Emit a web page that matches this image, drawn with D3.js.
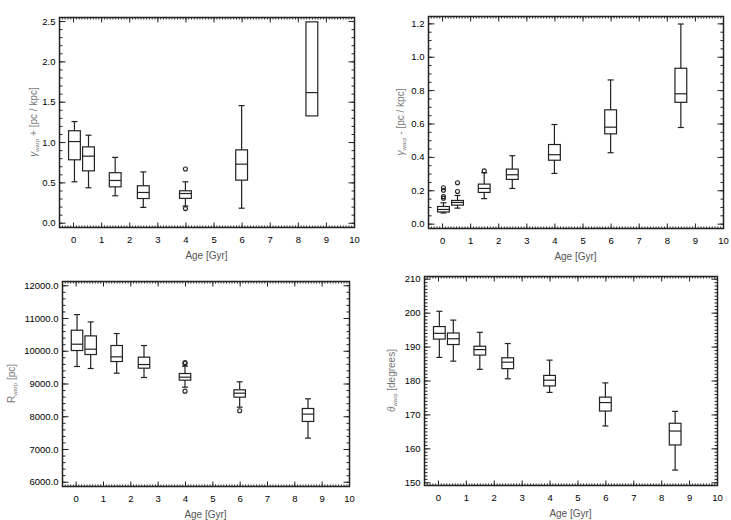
<!DOCTYPE html>
<html>
<head>
<meta charset="utf-8">
<script src="https://cdn.jsdelivr.net/npm/d3@7"></script>
<style>
  body { margin: 0; background: #fff; }
  svg { display: block; font-family: "Liberation Sans", Arial, sans-serif; }
  .tick text { font-size: 9.5px; fill: #000; }
  .axis path { display: none; }
  .axis line { stroke: #222; }
</style>
</head>
<body>
<div id="chart"></div>
<script>
(function () {
    // age bins (Gyr) shared by every panel
    const ages = [0.05, 0.55, 1.5, 2.5, 4, 6, 8.5];

    // box stats per age bin: [whisker low, q1, median, q3, whisker high]
    const gammaPlus = [
        [0.507, 0.78, 1.006, 1.14, 1.254],
        [0.433, 0.643, 0.825, 0.94, 1.085],
        [0.334, 0.445, 0.524, 0.62, 0.81],
        [0.19, 0.30, 0.375, 0.458, 0.63],
        [0.207, 0.302, 0.362, 0.396, 0.507],
        [0.18, 0.528, 0.726, 0.903, 1.452],
        [1.324, 1.324, 1.613, 2.49, 2.49]
    ];
    const gammaPlusOut = [[4, 0.665], [4, 0.175]];

    const gammaMinus = [
        [0.064, 0.07, 0.085, 0.103, 0.125],
        [0.093, 0.111, 0.127, 0.139, 0.169],
        [0.15, 0.187, 0.211, 0.237, 0.305],
        [0.211, 0.265, 0.293, 0.327, 0.407],
        [0.301, 0.38, 0.413, 0.474, 0.594],
        [0.425, 0.538, 0.578, 0.682, 0.861],
        [0.576, 0.727, 0.778, 0.931, 1.196]
    ];
    const gammaMinusOut = [[0.05, 0.215], [0.05, 0.2], [0.05, 0.162], [0.05, 0.152],
                           [0.55, 0.245], [0.55, 0.193], [1.5, 0.316]];

    const rWarp = [
        [9519, 10007, 10200, 10627, 11105],
        [9458, 9885, 10048, 10454, 10881],
        [9315, 9671, 9814, 10160, 10526],
        [9183, 9468, 9580, 9804, 10160],
        [8888, 9102, 9193, 9305, 9529],
        [8278, 8583, 8705, 8807, 9051],
        [7332, 7841, 8065, 8237, 8532]
    ];
    const rWarpOut = [[4, 9640], [4, 9612], [4, 8766], [6, 8166]];

    const thetaWarp = [
        [186.8, 192.2, 193.9, 195.9, 200.4],
        [185.7, 190.6, 192.3, 194.0, 197.8],
        [183.3, 187.5, 189.1, 190.1, 194.2],
        [180.5, 183.5, 185.4, 186.7, 190.9],
        [176.5, 178.4, 180.1, 181.5, 186.0],
        [166.6, 171.0, 173.5, 175.1, 179.3],
        [153.6, 161.0, 165.1, 167.4, 170.9]
    ];
    const thetaWarpOut = [];

    const xTicks = d3.range(0, 11, 1);

    const W = 731, H = 520;
    const svg = d3.select("#chart").append("svg")
        .attr("width", W).attr("height", H);

    const panels = [
        { stats: gammaPlus, out: gammaPlusOut, frame: { l: 59, t: 17, r: 354, b: 227 },
          yDomain: [-0.053, 2.55], yTicks: d3.range(0, 2.51, 0.5), yMinor: 0.1, fmt: d3.format(".1f"),
          title: ["γ", "warp", " + [pc / kpc]"], titleX: 33 },
        { stats: gammaMinus, out: gammaMinusOut, frame: { l: 428, t: 16, r: 723, b: 228 },
          yDomain: [-0.026, 1.244], yTicks: d3.range(0, 1.21, 0.2), yMinor: 0.05, fmt: d3.format(".1f"),
          title: ["γ", "warp", " - [pc / kpc]"], titleX: 400 },
        { stats: rWarp, out: rWarpOut, frame: { l: 62, t: 281, r: 349, b: 486 },
          yDomain: [5870, 12130], yTicks: d3.range(6000, 12001, 1000), yMinor: 200, fmt: d3.format(".1f"),
          title: ["R", "warp", " [pc]"], titleX: 11 },
        { stats: thetaWarp, out: thetaWarpOut, frame: { l: 424, t: 276, r: 717, b: 485 },
          yDomain: [149.2, 210.8], yTicks: d3.range(150, 211, 10), yMinor: 1, fmt: d3.format("d"),
          title: ["θ", "warp", " [degrees]"], titleX: 391 }
    ];

    function minorTicks(domain, step) {
        const out = [];
        const start = Math.ceil(domain[0] / step - 1e-6);
        const end = Math.floor(domain[1] / step + 1e-6);
        for (let i = start; i <= end; i++) out.push(+(i * step).toFixed(6));
        return out;
    }

    function drawPanel(p) {
        const f = p.frame;
        const x = d3.scaleLinear().domain([-0.5, 10]).range([f.l, f.r]);
        const y = d3.scaleLinear().domain(p.yDomain).range([f.b, f.t]);
        const g = svg.append("g");

        // frame
        g.append("rect")
            .attr("x", f.l + 0.5).attr("y", f.t + 0.5)
            .attr("width", f.r - f.l).attr("height", f.b - f.t)
            .attr("fill", "none").attr("stroke", "#222").attr("stroke-width", 1.5);

        const xMinor = minorTicks([-0.5, 10], 0.1);
        const yMinor = minorTicks(p.yDomain, p.yMinor);

        // bottom axis, ticks pointing inward
        g.append("g").attr("class", "axis").attr("transform", `translate(0,${f.b + 0.5})`)
            .call(d3.axisBottom(x).tickValues(xMinor).tickSizeInner(-2).tickFormat(""));
        g.append("g").attr("class", "axis").attr("transform", `translate(0,${f.b + 0.5})`)
            .call(d3.axisBottom(x).tickValues(xTicks).tickSizeInner(-5).tickPadding(9).tickFormat(d3.format("d")));
        // top axis
        g.append("g").attr("class", "axis").attr("transform", `translate(0,${f.t + 0.5})`)
            .call(d3.axisTop(x).tickValues(xMinor).tickSizeInner(-2).tickFormat(""));
        g.append("g").attr("class", "axis").attr("transform", `translate(0,${f.t + 0.5})`)
            .call(d3.axisTop(x).tickValues(xTicks).tickSizeInner(-5).tickFormat(""));
        // left axis
        g.append("g").attr("class", "axis").attr("transform", `translate(${f.l + 0.5},0)`)
            .call(d3.axisLeft(y).tickValues(yMinor).tickSizeInner(-3).tickFormat(""));
        g.append("g").attr("class", "axis").attr("transform", `translate(${f.l + 0.5},0)`)
            .call(d3.axisLeft(y).tickValues(p.yTicks).tickSizeInner(-6).tickPadding(4).tickFormat(p.fmt));
        // right axis
        g.append("g").attr("class", "axis").attr("transform", `translate(${f.r + 0.5},0)`)
            .call(d3.axisRight(y).tickValues(yMinor).tickSizeInner(-3).tickFormat(""));
        g.append("g").attr("class", "axis").attr("transform", `translate(${f.r + 0.5},0)`)
            .call(d3.axisRight(y).tickValues(p.yTicks).tickSizeInner(-6).tickFormat(""));

        // x title
        g.append("text")
            .attr("x", (f.l + f.r) / 2).attr("y", f.b + 28.5)
            .attr("dy", "0.35em")
            .attr("text-anchor", "middle")
            .attr("font-size", 10).attr("fill", "#555")
            .text("Age [Gyr]");

        // y title with subscript
        const yt = g.append("text")
            .attr("transform", `translate(${p.titleX},${(f.t + f.b) / 2}) rotate(-90)`)
            .attr("text-anchor", "middle")
            .attr("dy", "0.35em")
            .attr("font-size", 10).attr("fill", "#777");
        yt.append("tspan").attr("font-style", p.title[0] === "R" ? "normal" : "italic").text(p.title[0]);
        yt.append("tspan").attr("font-size", 6).attr("dy", 2.5).text(p.title[1]);
        yt.append("tspan").attr("dy", -2.5).text(p.title[2]);

        // boxes
        const half = (x(0.42) - x(0)) / 2;
        const cap = 3;
        const boxes = g.append("g").attr("fill", "none").attr("stroke", "#222").attr("stroke-width", 1.2);
        p.stats.forEach((s, i) => {
            const cx = x(ages[i]);
            const [lo, q1, med, q3, hi] = s.map(y);
            const bg = boxes.append("g");
            bg.append("rect").attr("x", cx - half).attr("y", q3)
                .attr("width", half * 2).attr("height", q1 - q3);
            bg.append("line").attr("x1", cx - half).attr("x2", cx + half).attr("y1", med).attr("y2", med);
            if (hi < q3 - 0.5) {
                bg.append("line").attr("x1", cx).attr("x2", cx).attr("y1", q3).attr("y2", hi);
                bg.append("line").attr("x1", cx - cap).attr("x2", cx + cap).attr("y1", hi).attr("y2", hi);
            }
            if (lo > q1 + 0.5) {
                bg.append("line").attr("x1", cx).attr("x2", cx).attr("y1", q1).attr("y2", lo);
                bg.append("line").attr("x1", cx - cap).attr("x2", cx + cap).attr("y1", lo).attr("y2", lo);
            }
        });

        // outliers
        g.append("g").selectAll("circle")
            .data(p.out)
            .join("circle")
            .attr("cx", d => x(d[0]))
            .attr("cy", d => y(d[1]))
            .attr("r", 2)
            .attr("fill", "none").attr("stroke", "#222").attr("stroke-width", 1.1);
    }

    panels.forEach(drawPanel);
})();
</script>
</body>
</html>
